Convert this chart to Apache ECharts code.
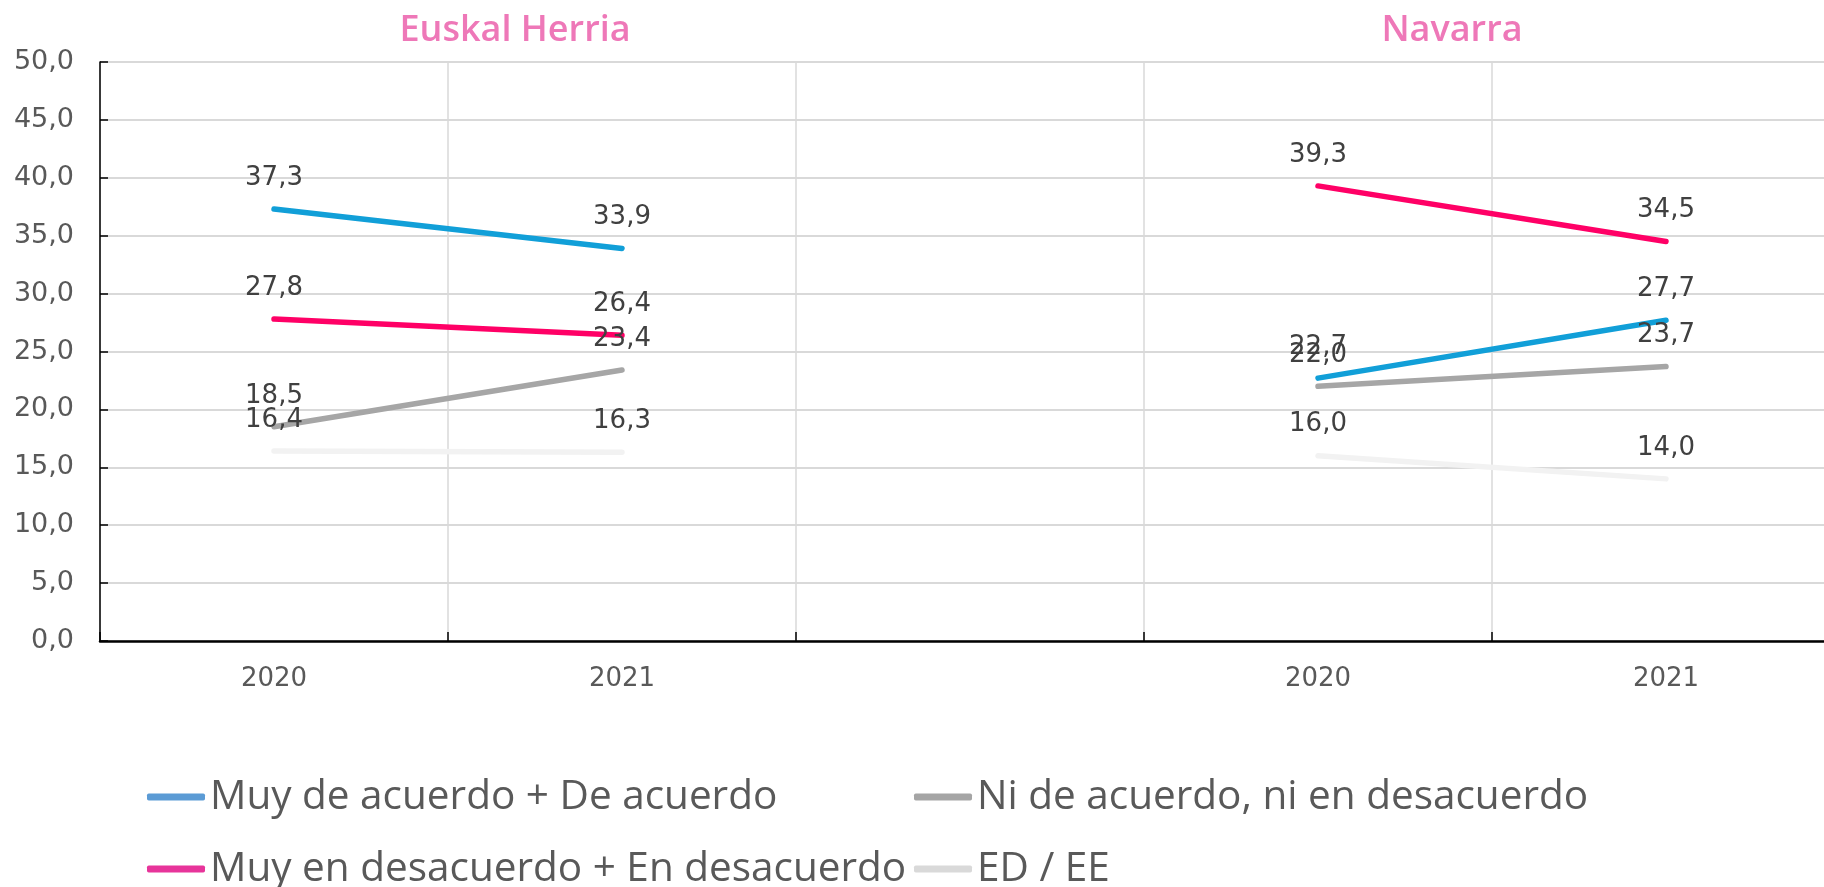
<!DOCTYPE html>
<html>
<head>
<meta charset="utf-8">
<script src="https://cdn.jsdelivr.net/npm/echarts@6/dist/echarts.min.js"></script>
<style>
  html, body { margin: 0; padding: 0; background: #fff; overflow: hidden; }
  /* el lienzo es algo más ancho que la ventana: el área del gráfico se corta por la derecha, como en el original */
  #chart { width: 1840px; height: 887px; }
</style>
</head>
<body>
<div id="chart"></div>
<script>
// categorías (la tercera vacía separa las dos regiones)
const categories = ['2020', '2021', '', '2020', '2021']
const regiones = ['Euskal Herria', 'Navarra']

// series
const muyDeAcuerdo = [37.3, 33.9, null, 22.7, 27.7]
const muyEnDesacuerdo = [27.8, 26.4, null, 39.3, 34.5]
const niNi = [18.5, 23.4, null, 22.0, 23.7]
const edEe = [16.4, 16.3, null, 16.0, 14.0]

const seriesNames = [
  'Muy de acuerdo + De acuerdo',
  'Muy en desacuerdo + En desacuerdo',
  'Ni de acuerdo, ni en desacuerdo',
  'ED / EE'
]
const legendColors = ['#5B9BD5', '#E7349A', '#A5A5A5', '#D9D9D9']

const fmt = v => v.toFixed(1).replace('.', ',')

const chart = echarts.init(document.getElementById('chart'))

const makeSeries = (name, data, color) => ({
  name: name,
  type: 'line',
  data: data,
  connectNulls: false,
  symbol: 'circle',
  symbolSize: 0,
  showSymbol: true,
  lineStyle: { color: color, width: 5.5, cap: 'round' },
  itemStyle: { color: color },
  label: {
    show: true,
    position: 'top',
    distance: 18,
    fontFamily: 'DejaVu Sans',
    fontSize: 26,
    color: '#404040',
    formatter: p => fmt(p.value)
  },
  emphasis: { disabled: true }
})

// una leyenda por elemento, colocadas en dos columnas
const legendPos = [[147, 775], [147, 847], [914, 775], [914, 847]]
const legends = seriesNames.map((name, i) => ({
  orient: 'horizontal',
  left: legendPos[i][0],
  top: legendPos[i][1],
  padding: 0,
  icon: 'roundRect',
  itemWidth: 58,
  itemHeight: 7,
  textStyle: { fontFamily: 'Open Sans', fontSize: 40.5, color: '#595959', lineHeight: 44 },
  data: [{ name: name, itemStyle: { color: legendColors[i] } }]
}))

const option = {
  animation: false,
  backgroundColor: '#fff',
  grid: { left: 100, right: 0, top: 62, bottom: 246, containLabel: false },
  graphic: [
    { type: 'text', x: 515, y: 31, style: { text: regiones[0], fill: '#EE78B8', font: '600 36px "Open Sans"', textAlign: 'center', textVerticalAlign: 'middle' } },
    { type: 'text', x: 1452, y: 31, style: { text: regiones[1], fill: '#EE78B8', font: '600 36px "Open Sans"', textAlign: 'center', textVerticalAlign: 'middle' } }
  ],
  legend: legends,
  xAxis: {
    type: 'category',
    data: categories,
    boundaryGap: true,
    axisLine: { lineStyle: { color: '#000', width: 2.5 } },
    axisTick: { show: true, inside: true, length: 9, lineStyle: { color: '#000', width: 1.5 } },
    axisLabel: { fontFamily: 'DejaVu Sans', fontSize: 26, color: '#595959', margin: 25 },
    splitLine: { show: true, lineStyle: { color: '#D9D9D9', width: 1.5 } }
  },
  yAxis: {
    type: 'value',
    min: 0,
    max: 50,
    interval: 5,
    axisLine: { show: true, lineStyle: { color: '#000', width: 1.5 } },
    axisTick: { show: true, inside: true, length: 8, lineStyle: { color: '#000', width: 1.5 } },
    axisLabel: { fontFamily: 'DejaVu Sans', fontSize: 27, color: '#595959', margin: 26, formatter: v => fmt(v) },
    splitLine: { show: true, lineStyle: { color: '#D9D9D9', width: 2 } }
  },
  series: [
    makeSeries(seriesNames[0], muyDeAcuerdo, '#119FD8'),
    makeSeries(seriesNames[1], muyEnDesacuerdo, '#FF0066'),
    makeSeries(seriesNames[2], niNi, '#A6A6A6'),
    makeSeries(seriesNames[3], edEe, '#F2F2F2')
  ]
}

chart.setOption(option)
</script>
</body>
</html>
